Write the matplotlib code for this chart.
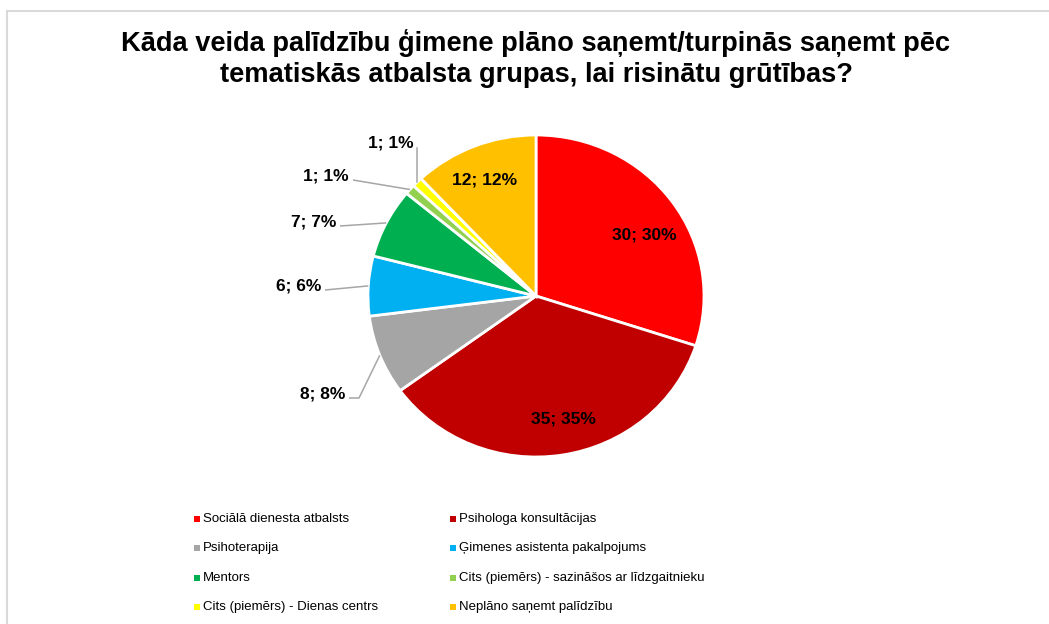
import numpy as np
import matplotlib
matplotlib.use("Agg")
import matplotlib.pyplot as plt
from matplotlib.patches import Rectangle

# --- data ---
categories = [
    "Sociālā dienesta atbalsts",
    "Psihologa konsultācijas",
    "Psihoterapija",
    "Ģimenes asistenta pakalpojums",
    "Mentors",
    "Cits (piemērs) - sazināšos ar līdzgaitnieku",
    "Cits (piemērs) - Dienas centrs",
    "Neplāno saņemt palīdzību",
]
counts = [30, 35, 8, 6, 7, 1, 1, 12]
percents = [30, 35, 8, 6, 7, 1, 1, 12]
colors = ["#FF0000", "#C00000", "#A5A5A5", "#00B0F0",
          "#00B050", "#92D050", "#FFFF00", "#FFC000"]
title = ("Kāda veida palīdzību ģimene plāno saņemt/turpinās saņemt pēc\n"
         "tematiskās atbalsta grupas, lai risinātu grūtības?")

plt.rcParams['font.family'] = ['Liberation Sans', 'DejaVu Sans']

W, H = 1049, 624
fig = plt.figure(figsize=(W / 100, H / 100), dpi=100)
fig.patch.set_facecolor("white")

# pie centre / radius in pixels (slightly wider than tall, like the reference)
cx, cy, rx, ry = 536, 296, 168, 161
ax = fig.add_axes([0, 0, 1, 1])

wedges, _ = ax.pie(counts, colors=colors, startangle=90, counterclock=False,
                   wedgeprops=dict(edgecolor="white", linewidth=2))
ax.set_aspect("auto")
ax.set_xlim(-cx / rx, (W - cx) / rx)
ax.set_ylim((cy - H) / ry, cy / ry)
ax.axis("off")


def px(x, y):
    # pixel position -> data coords
    return (x - cx) / rx, (cy - y) / ry


# mid angles of the slices
total = sum(counts)
cum = np.cumsum([0] + counts)
mid_deg = [90 - 360 * (cum[i] + counts[i] / 2) / total for i in range(len(counts))]

label_font = dict(fontsize=12.5, fontweight="bold", color="black")
leader_col = "#A6A6A6"

# labels inside the big slices: index -> (angle nudge, radius)
inside = {0: (-5.5, 0.75), 1: (3, 0.78), 7: (1.3, 0.78)}
for i, (nudge, r) in inside.items():
    a = np.deg2rad(mid_deg[i] + nudge)
    ax.text(r * np.cos(a), r * np.sin(a), f"{counts[i]}; {percents[i]}%",
            ha="center", va="center", **label_font)

# labels outside with leader lines: index -> (line start px, elbow px or None)
outside = {
    2: ((349, 398), (359, 398)),
    3: ((325, 290), None),
    4: ((340, 226), None),
    5: ((353, 180), None),
}
for i, (start, elbow) in outside.items():
    a = np.deg2rad(mid_deg[i])
    ex, ey = np.cos(a), np.sin(a)
    pts = [px(*start)]
    if elbow is not None:
        pts.append(px(*elbow))
    pts.append((ex, ey))
    xs, ys = zip(*pts)
    ax.plot(xs, ys, color=leader_col, lw=1.1, solid_capstyle="butt")
    tx, ty = px(start[0] - 4, start[1] - 4)
    ax.text(tx, ty, f"{counts[i]}; {percents[i]}%", ha="right", va="center",
            **label_font)

# the tiny yellow slice: label above with a vertical leader
a = np.deg2rad(mid_deg[6])
ex, ey = np.cos(a), np.sin(a)
top = px(cx + ex * rx, 148)
ax.plot([top[0], ex], [top[1], ey], color=leader_col, lw=1.1)
tx, ty = px(cx + ex * rx - 26, 143)
ax.text(tx, ty, f"{counts[6]}; {percents[6]}%", ha="center", va="center",
        **label_font)

# title
fig.text(536 / W, 1 - 58.5 / H, title, ha="center", va="center",
         fontsize=19.6, fontweight="bold", color="black", linespacing=1.22)

# legend, two columns filled row-wise
col_x = [197, 453]
row_y = [519, 548, 578, 607]
for i, name in enumerate(categories):
    x = col_x[i % 2]
    y = row_y[i // 2]
    fig.patches.append(Rectangle(((x - 3) / W, 1 - (y + 3) / H), 6 / W, 6 / H,
                                 transform=fig.transFigure,
                                 facecolor=colors[i], edgecolor="none"))
    fig.text((x + 6) / W, 1 - y / H, name, ha="left", va="center",
             fontsize=9.5, color="black")

# chart area border (runs off the right / bottom edge)
fig.patches.append(Rectangle((6.5 / W, -0.1), 1.2, 1 - 10.5 / H + 0.1,
                             transform=fig.transFigure, facecolor="none",
                             edgecolor="#D9D9D9", lw=1.5))

fig.savefig("out.png", dpi=100)
